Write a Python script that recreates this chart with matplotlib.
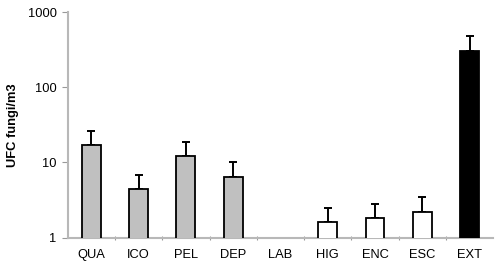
import numpy as np
import matplotlib.pyplot as plt
from matplotlib.ticker import FixedLocator

plt.rcParams['font.family'] = ['Liberation Sans', 'DejaVu Sans']

sites = ['QUA', 'ICO', 'PEL', 'DEP', 'LAB', 'HIG', 'ENC', 'ESC', 'EXT']
ufc = [17.1, 4.43, 12.2, 6.44, np.nan, 1.60, 1.81, 2.21, 308]
err_top = [26.2, 6.85, 19.0, 10.0, np.nan, 2.50, 2.80, 3.43, 478]
colors = ['#c0c0c0', '#c0c0c0', '#c0c0c0', '#c0c0c0', 'white',
          'white', 'white', 'white', 'black']

x = np.arange(len(sites))
vals = np.array(ufc)
upper = np.array(err_top) - vals

fig = plt.figure(figsize=(5, 2.68), dpi=100)
ax = fig.add_axes([0.1354, 0.113, 0.851, 0.842])

ax.bar(x, vals, width=0.4, color=colors, edgecolor='black', linewidth=1.3,
       zorder=3)
ax.errorbar(x, vals, yerr=[np.zeros_like(upper), upper], fmt='none',
            ecolor='black', elinewidth=1.4, capsize=3, capthick=1.4, zorder=2)

ax.set_yscale('log')
ax.set_ylim(1, 1000)
ax.set_xlim(-0.5, 8.5)
ax.set_yticks([1, 10, 100, 1000])
ax.set_yticklabels(['1', '10', '100', '1000'])
ax.yaxis.set_minor_locator(FixedLocator([]))
ax.set_xticks(x)
ax.set_xticklabels(sites)
ax.xaxis.set_minor_locator(FixedLocator(np.arange(0.5, 8.5, 1)))

ax.tick_params(axis='x', which='major', length=0, pad=8, labelsize=9.3)
ax.tick_params(axis='x', which='minor', length=3, color='#999999', width=0.8,
               direction='inout')
ax.tick_params(axis='y', which='major', length=4, color='#999999', width=0.8,
               labelsize=9.3, pad=4)

for s in ['top', 'right']:
    ax.spines[s].set_visible(False)
for s in ['left', 'bottom']:
    ax.spines[s].set_color('#b8b8b8')
    ax.spines[s].set_linewidth(1.5)

ax.set_ylabel('UFC fungi/m3', fontsize=9.3, fontweight='bold', labelpad=6)

fig.savefig('out.png', dpi=100)
